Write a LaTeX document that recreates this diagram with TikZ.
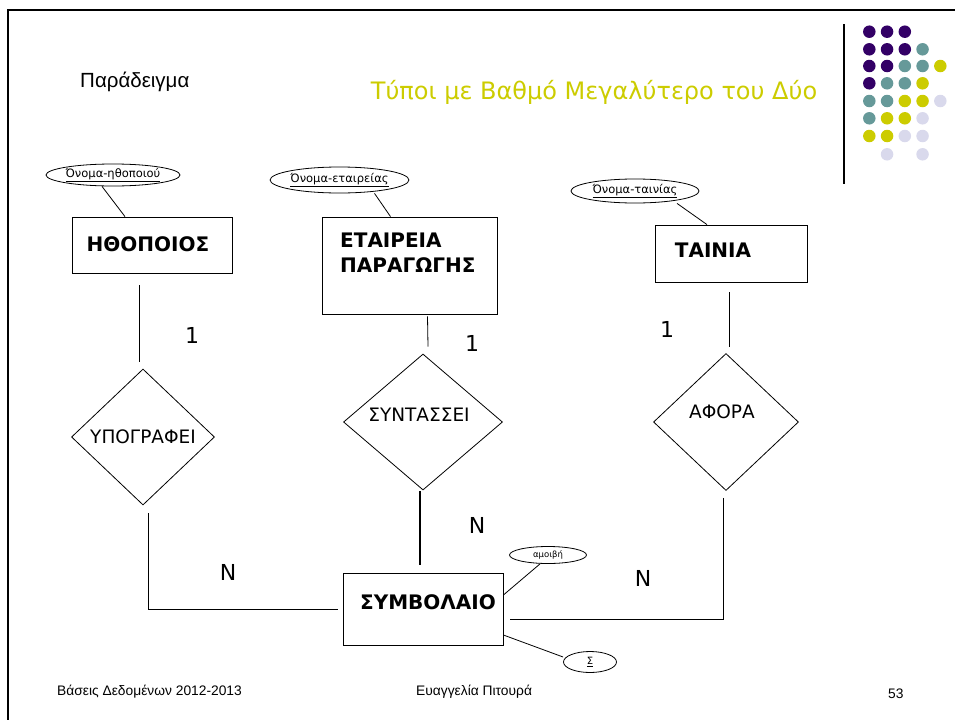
\documentclass[tikz,border=0pt]{standalone}
\usepackage{fontspec}
\setmainfont{DejaVu Sans}
\newfontfamily\arialf{Liberation Sans}
\usetikzlibrary{shapes.geometric}
\definecolor{ttl}{HTML}{CCCC00}
\definecolor{dp}{HTML}{330066}
\definecolor{dt}{HTML}{669999}
\definecolor{dy}{HTML}{CCCC00}
\definecolor{dl}{HTML}{D9D9EC}
\tikzset{
  ent/.style={draw, line width=0.8pt, inner sep=0pt},
  enttxt/.style={font=\fontsize{20}{25}\selectfont\bfseries, inner sep=0pt, align=left},
  rel/.style={draw, diamond, line width=0.8pt, inner sep=0pt, font=\fontsize{18.5}{22}\selectfont},
  att/.style={draw, ellipse, line width=0.8pt, inner sep=0pt, font=\fontsize{11.5}{13}\selectfont},
  card/.style={font=\fontsize{22}{26}\selectfont, inner sep=0pt},
  conn/.style={line width=0.8pt},
  foot/.style={font=\arialf\fontsize{13.8}{16}\selectfont, inner sep=0pt, anchor=west},
  dot/.style={circle, fill=#1, draw=none, minimum size=12.5pt, inner sep=0pt}
}
\begin{document}
\begin{tikzpicture}[x=1pt,y=-1pt]
\useasboundingbox (0,0) rectangle (955,720);
% slide frame
\draw[line width=2.6pt] (955,10) -- (8,10) -- (8,720);
% decoration
\draw[line width=2pt] (844,24) -- (844,184);
\foreach \r/\y/\list in {1/31.7/{1/dp,2/dp,3/dp},
                          2/49.3/{1/dp,2/dp,3/dp,4/dt},
                          3/66/{1/dp,2/dp,3/dt,4/dt,5/dy},
                          4/83.3/{1/dp,2/dt,3/dt,4/dy},
                          5/101/{1/dt,2/dt,3/dy,4/dy,5/dl},
                          6/118.3/{1/dt,2/dy,3/dy,4/dl},
                          7/136/{1/dy,2/dy,3/dl,4/dl},
                          8/154.3/{2/dl,4/dl}}{
  \foreach \c/\col in \list {
    \node[dot=\col] (d\r\c) at ({869.3+17.75*(\c-1)},\y) {};
  }
}
% titles
\node[font=\arialf\fontsize{20.5}{24}\selectfont, anchor=west, inner sep=0pt] (par) at (80,82) {Παράδειγμα};
\node[font=\fontsize{24}{28}\selectfont, text=ttl, inner sep=0pt] (title) at (594,92) {Τύποι με Βαθμό Μεγαλύτερο του Δύο};
% entities
\node[ent, minimum width=160pt, minimum height=56pt] (hth) at (152,245) {};
\node[enttxt] (hthT) at (148,244) {ΗΘΟΠΟΙΟΣ};
\node[ent, minimum width=175pt, minimum height=97pt] (etb) at (409.5,265.5) {};
\node[enttxt, anchor=north west] (etbT) at (340,233) {ΕΤΑΙΡΕΙΑ\\ΠΑΡΑΓΩΓΗΣ};
\node[ent, minimum width=152pt, minimum height=57pt] (tai) at (731,253.5) {};
\node[enttxt] (taiT) at (713,250) {ΤΑΙΝΙΑ};
\node[ent, minimum width=160pt, minimum height=72pt] (sym) at (423,609) {};
\node[enttxt] (symT) at (428,602) {ΣΥΜΒΟΛΑΙΟ};
% attributes
\node[att, minimum width=130pt, minimum height=22pt] (a1) at (113,175) {\underline{Όνομα-ηθοποιού}};
\node[att, minimum width=129pt, minimum height=26pt] (a2) at (339.5,180) {\underline{Όνομα-εταιρείας}};
\node[att, minimum width=128pt, minimum height=24pt] (a3) at (635,191) {\underline{Όνομα-ταινίας}};
\node[att, minimum width=77pt, minimum height=17pt, font=\fontsize{8.5}{10}\selectfont] (amo) at (548,555) {αμοιβή};
\node[att, minimum width=53pt, minimum height=21pt, font=\fontsize{10}{12}\selectfont] (sig) at (590,662) {\underline{Σ}};
% relationships
\node[rel, minimum width=143pt, minimum height=136pt] (ypo) at (143,437) {ΥΠΟΓΡΑΦΕΙ};
\node[rel, minimum width=159pt, minimum height=136pt] (syn) at (423,422) {};
\node[font=\fontsize{18.5}{22}\selectfont, inner sep=0pt] (synT) at (419,415) {ΣΥΝΤΑΣΣΕΙ};
\node[rel, minimum width=145pt, minimum height=137pt] (afo) at (726,422) {};
\node[font=\fontsize{18.5}{22}\selectfont, inner sep=0pt] (afoT) at (722,412) {ΑΦΟΡΑ};
% attribute links
\draw[conn] ([xshift=-11pt]a1.south) -- ([xshift=-27pt]hth.north);
\draw[conn] ([xshift=35pt]a2.south) -- ([xshift=-19pt]etb.north);
\draw[conn] ([xshift=42pt]a3.south) -- ([xshift=-24pt]tai.north);
\draw[conn] ([yshift=14pt]sym.east) -- ([xshift=-8pt]amo.south);
\draw[conn] ([yshift=-26pt]sym.east) -- ([yshift=5pt]sig.west);
% relationship links
\draw[conn] ([xshift=-13pt,yshift=-12pt]hth.south) -- ([xshift=-4pt,yshift=7pt]ypo.north);
\draw[conn] ([xshift=5pt,yshift=-8pt]ypo.south) |- ([xshift=-5pt]sym.west);
\draw[conn] ([xshift=18pt,yshift=-2pt]etb.south) -- ([xshift=5pt,yshift=7pt]syn.north);
\draw[line width=2.2pt] ([xshift=-3pt,yshift=-1pt]syn.south) -- ([xshift=-3pt,yshift=8pt]sym.north);
\draw[conn] ([xshift=-2pt,yshift=-10pt]tai.south) -- ([xshift=3pt,yshift=6pt]afo.north);
\draw[conn] ([xshift=-3pt,yshift=-7pt]afo.south) |- ([xshift=7pt,yshift=-10pt]sym.east);
% cardinalities
\node[card] (c1) at (192,335) {1};
\node[card] (c2) at (472,343) {1};
\node[card] (c3) at (667,329) {1};
\node[card] (n1) at (228,572) {N};
\node[card] (n2) at (477,525) {N};
\node[card] (n3) at (643,578) {N};
% footer
\node[foot] (f1) at (57,692) {Βάσεις Δεδομένων 2012-2013};
\node[foot] (f2) at (416,692) {Ευαγγελία Πιτουρά};
\node[foot] (f3) at (888,694) {53};
\end{tikzpicture}
\end{document}
